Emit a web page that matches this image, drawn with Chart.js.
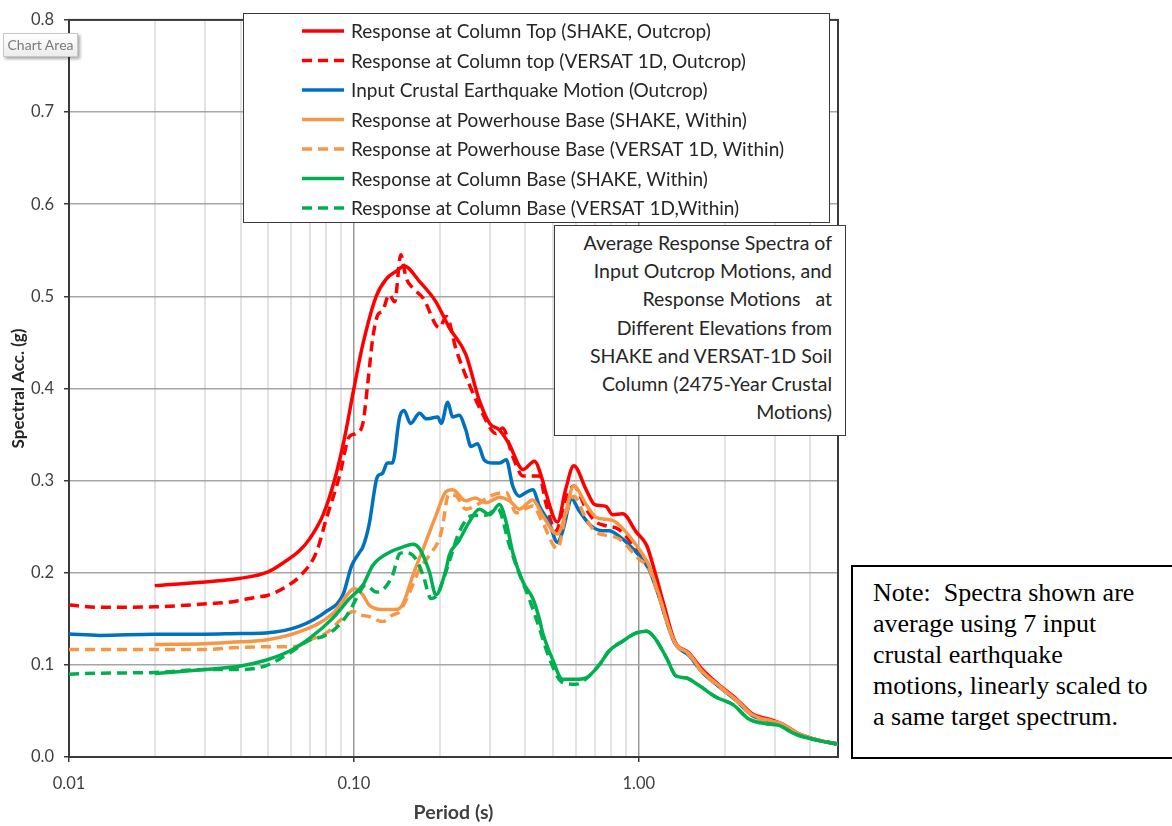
<!DOCTYPE html>
<html><head><meta charset="utf-8">
<script src="https://cdn.jsdelivr.net/npm/chart.js@4"></script>
<style>
html,body{margin:0;padding:0;background:#fff;overflow:hidden;width:1172px;height:826px;}
#wrap{position:relative;width:1172px;height:826px;}
#c{position:absolute;left:0;top:0;}
.box{position:absolute;background:#fff;box-sizing:border-box;}
#title{left:554px;top:225px;width:292px;height:211px;border:1px solid #3c3c3c;text-align:right;font-family:Lato,sans-serif;font-size:19.5px;color:#262626;line-height:28.2px;padding:3px 13px 0 0;white-space:pre;}
#note{left:851px;top:565px;width:340px;height:194px;border:2px solid #000;font-family:"Liberation Serif",serif;font-size:26px;color:#000;line-height:31px;padding:10px 0 0 20px;white-space:pre;}
#tip{left:3px;top:33px;width:75px;height:24px;border:1px solid #c8c8c8;background:linear-gradient(#fff,#ececec);box-shadow:2px 2px 3px rgba(0,0,0,.35);font-family:Lato,sans-serif;font-size:14px;color:#7a7a7a;line-height:22px;text-align:center;}
</style></head>
<body><div id="wrap">
<canvas id="c" width="1172" height="826"></canvas>
<div id="title" class="box">Average Response Spectra of
Input Outcrop Motions, and
Response Motions   at
Different Elevations from
SHAKE and VERSAT-1D Soil
Column (2475-Year Crustal
Motions)</div>
<div id="note" class="box">Note:  Spectra shown are
average using 7 input
crustal earthquake
motions, linearly scaled to
a same target spectrum.</div>
<div id="tip" class="box">Chart Area</div>
</div>
<script>
// ---------- DATA ----------
const seriesLabels = [
  'Response at Column Top (SHAKE, Outcrop)',
  'Response at Column top (VERSAT 1D, Outcrop)',
  'Input Crustal Earthquake Motion (Outcrop)',
  'Response at Powerhouse Base (SHAKE, Within)',
  'Response at Powerhouse Base (VERSAT 1D, Within)',
  'Response at Column Base (SHAKE, Within)',
  'Response at Column Base (VERSAT 1D,Within)'
];

const topShakeT = [0.02,0.03,0.04,0.05,0.056,0.0645,0.07,0.078,0.0854,0.0925,0.100,0.1075,0.1197,0.13,0.1405,0.15,0.17,0.194,0.216,0.247,0.2755,0.2995,0.324,0.35,0.392,0.43,0.4595,0.4715,0.518,0.553,0.591,0.6535,0.70,0.767,0.808,0.877,0.98,1.064,1.138,1.215,1.335,1.5,1.67,1.9,2.2,2.5,2.94,3.18,3.6,4.3,5.0];
const topShakeSa = [0.186,0.190,0.194,0.201,0.210,0.224,0.237,0.263,0.300,0.345,0.400,0.448,0.500,0.519,0.527,0.533,0.516,0.494,0.466,0.437,0.387,0.362,0.355,0.340,0.312,0.321,0.300,0.287,0.255,0.290,0.316,0.290,0.274,0.272,0.263,0.264,0.244,0.230,0.201,0.169,0.126,0.113,0.095,0.079,0.063,0.047,0.040,0.036,0.026,0.018,0.014];

const topVersatT = [0.01,0.0128,0.02,0.0287,0.0376,0.0463,0.0493,0.0564,0.0645,0.0738,0.0799,0.089,0.0965,0.1017,0.1075,0.1118,0.1165,0.1213,0.126,0.133,0.139,0.146,0.1525,0.161,0.175,0.1995,0.211,0.229,0.2535,0.2825,0.3155,0.3325,0.361,0.392,0.4475,0.4715,0.5115,0.553,0.591,0.6535,0.708,0.767,0.85,1.0,1.084,1.16,1.335,1.5,1.67,1.9,2.2,2.5,2.94,3.18,3.6,4.3,5.0];
const topVersatSa = [0.165,0.1625,0.163,0.1657,0.1686,0.174,0.175,0.183,0.196,0.222,0.258,0.305,0.348,0.351,0.362,0.405,0.455,0.480,0.484,0.502,0.494,0.545,0.520,0.509,0.498,0.466,0.478,0.441,0.405,0.373,0.351,0.357,0.326,0.305,0.305,0.276,0.245,0.280,0.294,0.269,0.255,0.251,0.247,0.222,0.207,0.181,0.125,0.112,0.093,0.078,0.062,0.046,0.039,0.035,0.025,0.018,0.014];

const inputT = [0.01,0.0128,0.02,0.03,0.04,0.049,0.0645,0.08,0.0915,0.098,0.1046,0.1075,0.113,0.1197,0.1213,0.126,0.131,0.1365,0.1447,0.150,0.158,0.170,0.1795,0.197,0.2025,0.2135,0.222,0.234,0.247,0.2575,0.2715,0.2865,0.3065,0.324,0.3425,0.361,0.381,0.401,0.4245,0.4475,0.484,0.518,0.539,0.582,0.6125,0.6795,0.7475,0.786,0.85,1.0,1.084,1.16,1.335,1.5,1.67,1.9,2.2,2.5,2.94,3.18,3.6,4.3,5.0];
const inputSa = [0.1335,0.132,0.1333,0.1333,0.134,0.1346,0.142,0.158,0.176,0.207,0.222,0.228,0.252,0.300,0.305,0.308,0.319,0.319,0.369,0.376,0.362,0.373,0.367,0.369,0.362,0.385,0.369,0.371,0.355,0.337,0.340,0.3225,0.319,0.319,0.3225,0.294,0.283,0.287,0.290,0.2725,0.2546,0.233,0.244,0.280,0.269,0.251,0.2456,0.2456,0.240,0.219,0.204,0.180,0.124,0.110,0.092,0.077,0.061,0.045,0.038,0.035,0.025,0.018,0.014];

const phShakeT = [0.02,0.03,0.04,0.049,0.0645,0.0845,0.0965,0.1,0.1075,0.113,0.126,0.1405,0.148,0.161,0.175,0.194,0.2105,0.222,0.247,0.2665,0.2905,0.324,0.3515,0.381,0.4245,0.4595,0.518,0.546,0.591,0.6535,0.708,0.767,0.83,1.0,1.084,1.16,1.335,1.5,1.67,1.9,2.2,2.5,2.94,3.18,3.6,4.3,5.0];
const phShakeSa = [0.122,0.123,0.125,0.127,0.136,0.156,0.179,0.183,0.176,0.165,0.160,0.160,0.165,0.197,0.226,0.262,0.288,0.290,0.278,0.281,0.276,0.282,0.278,0.269,0.279,0.262,0.242,0.258,0.294,0.274,0.260,0.258,0.255,0.226,0.208,0.182,0.125,0.112,0.093,0.078,0.062,0.046,0.039,0.036,0.026,0.018,0.014];

const phVersatT = [0.01,0.02,0.03,0.0376,0.049,0.0595,0.0645,0.07,0.08,0.0915,0.0993,0.106,0.113,0.126,0.1365,0.1447,0.157,0.170,0.184,0.1995,0.2045,0.215,0.229,0.247,0.2665,0.30,0.3425,0.371,0.4245,0.4595,0.518,0.553,0.591,0.6535,0.708,0.786,0.85,1.0,1.084,1.16,1.335,1.5,1.67,1.9,2.2,2.5,2.94,3.18,3.6,4.3,5.0];
const phVersatSa = [0.1167,0.1167,0.1167,0.1185,0.1196,0.1196,0.121,0.127,0.1346,0.151,0.158,0.154,0.1525,0.147,0.154,0.158,0.179,0.204,0.219,0.237,0.250,0.285,0.283,0.269,0.2725,0.283,0.287,0.265,0.2725,0.2546,0.226,0.262,0.283,0.258,0.244,0.240,0.237,0.215,0.205,0.180,0.124,0.111,0.092,0.077,0.061,0.045,0.038,0.035,0.025,0.018,0.014];

const baseShakeT = [0.02,0.03,0.04,0.049,0.0595,0.07,0.0845,0.0965,0.1075,0.1165,0.133,0.148,0.161,0.170,0.184,0.194,0.211,0.216,0.234,0.2535,0.2755,0.2995,0.324,0.3425,0.361,0.392,0.4245,0.4475,0.4595,0.498,0.539,0.6,0.6535,0.7285,0.786,0.877,0.98,1.064,1.138,1.25,1.35,1.46,1.62,1.87,2.14,2.44,2.78,3.1,3.53,4.2,5.0];
const baseShakeSa = [0.0906,0.095,0.0988,0.105,0.115,0.129,0.151,0.172,0.1866,0.208,0.222,0.2277,0.231,0.226,0.201,0.176,0.205,0.219,0.235,0.2546,0.269,0.263,0.274,0.2546,0.222,0.190,0.172,0.150,0.135,0.106,0.0845,0.0845,0.086,0.1006,0.115,0.1257,0.1346,0.1364,0.129,0.1077,0.088,0.086,0.078,0.0648,0.0568,0.041,0.0362,0.0344,0.025,0.0183,0.014];

const baseVersatT = [0.01,0.0128,0.02,0.03,0.04,0.049,0.0595,0.07,0.078,0.0866,0.0965,0.102,0.110,0.1197,0.126,0.1365,0.1447,0.1525,0.165,0.175,0.1865,0.194,0.2045,0.216,0.234,0.261,0.2865,0.32,0.3515,0.375,0.412,0.4475,0.484,0.539,0.6,0.6535,0.7285,0.786,0.877,0.98,1.064,1.138,1.25,1.35,1.46,1.62,1.87,2.14,2.44,2.78,3.1,3.53,4.2,5.0];
const baseVersatSa = [0.0899,0.091,0.0917,0.095,0.095,0.099,0.113,0.127,0.131,0.140,0.158,0.172,0.1866,0.179,0.181,0.197,0.2205,0.222,0.215,0.197,0.172,0.174,0.190,0.212,0.244,0.262,0.262,0.269,0.2295,0.204,0.172,0.140,0.108,0.081,0.079,0.085,0.1006,0.115,0.1257,0.1346,0.1364,0.129,0.1077,0.088,0.086,0.078,0.0648,0.0568,0.041,0.0362,0.0344,0.025,0.0183,0.014];

const xMajorTicks = [0.01, 0.1, 1];
const xMajorLabels = ['0.01', '0.10', '1.00'];
const yTickStep = 0.1;

// ---------- STYLE ----------
const RED = '#FF0000', BLUE = '#0070C0', ORANGE = '#F79646', GREEN = '#00B050';
const DASH = [10, 6];
const seriesT = [topShakeT, topVersatT, inputT, phShakeT, phVersatT, baseShakeT, baseVersatT];
const seriesSa = [topShakeSa, topVersatSa, inputSa, phShakeSa, phVersatSa, baseShakeSa, baseVersatSa];
const seriesColor = [RED, RED, BLUE, ORANGE, ORANGE, GREEN, GREEN];
const seriesDash = [[], DASH, [], [], DASH, [], DASH];

const datasets = seriesLabels.map((lab, i) => ({
  label: lab,
  data: seriesT[i].map((t, k) => ({x: t, y: seriesSa[i][k]})),
  borderColor: seriesColor[i],
  backgroundColor: seriesColor[i],
  borderWidth: 3.5,
  borderDash: seriesDash[i],
  pointRadius: 0,
  fill: false,
  cubicInterpolationMode: 'monotone',
  order: seriesLabels.length - i
}));

function isMajor(v) { return xMajorTicks.some(m => Math.abs(v - m) < m * 1e-6); }

const framePlugin = {
  id: 'frame',
  beforeDatasetsDraw(chart) {
    const {ctx, chartArea: a} = chart;
    ctx.save();
    ctx.strokeStyle = '#3a3a3a';
    ctx.lineWidth = 2;
    ctx.strokeRect(a.left, a.top, a.right - a.left, a.bottom - a.top);
    ctx.restore();
  }
};

const legendPlugin = {
  id: 'boxLegend',
  afterDatasetsDraw(chart) {
    const ctx = chart.ctx;
    ctx.save();
    ctx.fillStyle = '#fff';
    ctx.fillRect(243.5, 13.5, 586, 209);
    ctx.strokeStyle = '#3a3a3a';
    ctx.lineWidth = 1;
    ctx.strokeRect(243.5, 13.5, 586, 209);
    ctx.font = '19px Lato';
    ctx.textBaseline = 'middle';
    chart.data.datasets.forEach((ds, i) => {
      const y = 31 + i * 29.5;
      ctx.beginPath();
      ctx.setLineDash(ds.borderDash || []);
      ctx.strokeStyle = ds.borderColor;
      ctx.lineWidth = 3.5;
      ctx.moveTo(302, y); ctx.lineTo(344, y);
      ctx.stroke();
      ctx.setLineDash([]);
      ctx.fillStyle = '#262626';
      ctx.fillText(ds.label, 351, y + 1);
    });
    ctx.restore();
  }
};

Chart.defaults.font.family = 'Lato';

new Chart(document.getElementById('c'), {
  type: 'line',
  data: { datasets },
  options: {
    responsive: false,
    animation: false,
    layout: { padding: { left: 0, right: 334, top: 12, bottom: 0 } },
    plugins: { legend: { display: false }, tooltip: { enabled: false } },
    scales: {
      x: {
        type: 'logarithmic',
        min: 0.01, max: 5,
        afterBuildTicks(scale) {
          const ticks = [];
          for (let e = -2; e <= 0; e++) {
            for (let m = 1; m <= 9; m++) {
              const v = Number((m * Math.pow(10, e)).toPrecision(6));
              if (v <= 5 + 1e-9) ticks.push({ value: v, major: isMajor(v) });
            }
          }
          scale.ticks = ticks;
        },
        afterFit(scale) { scale.height = 69; },
        ticks: {
          autoSkip: false, maxRotation: 0, minRotation: 0,
          color: '#404040', font: { size: 16.5 }, padding: 12,
          callback(v) {
            const k = xMajorTicks.findIndex(m => Math.abs(v - m) < m * 1e-6);
            return k >= 0 ? xMajorLabels[k] : '';
          }
        },
        grid: {
          color: c => (c.tick && isMajor(c.tick.value)) ? '#9a9a9a' : '#e3e3e3',
          lineWidth: c => (c.tick && isMajor(c.tick.value)) ? 1.5 : 2,
          tickColor: c => (c.tick && isMajor(c.tick.value)) ? '#3a3a3a' : 'rgba(0,0,0,0)',
          tickLength: 5,
          drawTicks: true
        },
        border: { display: false },
        title: { display: true, text: 'Period (s)', color: '#404040', font: { size: 19.5, weight: 'bold' }, padding: { top: 0, bottom: 2 } }
      },
      y: {
        min: 0, max: 0.8,
        afterFit(scale) { scale.width = 69; },
        ticks: {
          stepSize: yTickStep, color: '#404040', font: { size: 16.5 }, padding: 10,
          callback: v => Number(v).toFixed(1)
        },
        grid: { color: '#a6a6a6', lineWidth: 1.5, tickColor: '#3a3a3a', tickLength: 5 },
        border: { display: false },
        title: { display: true, text: 'Spectral Acc. (g)', color: '#262626', font: { size: 17, weight: 'bold' }, padding: { top: 8, bottom: 0 } }
      }
    }
  },
  plugins: [framePlugin, legendPlugin]
});
</script>
</body></html>
